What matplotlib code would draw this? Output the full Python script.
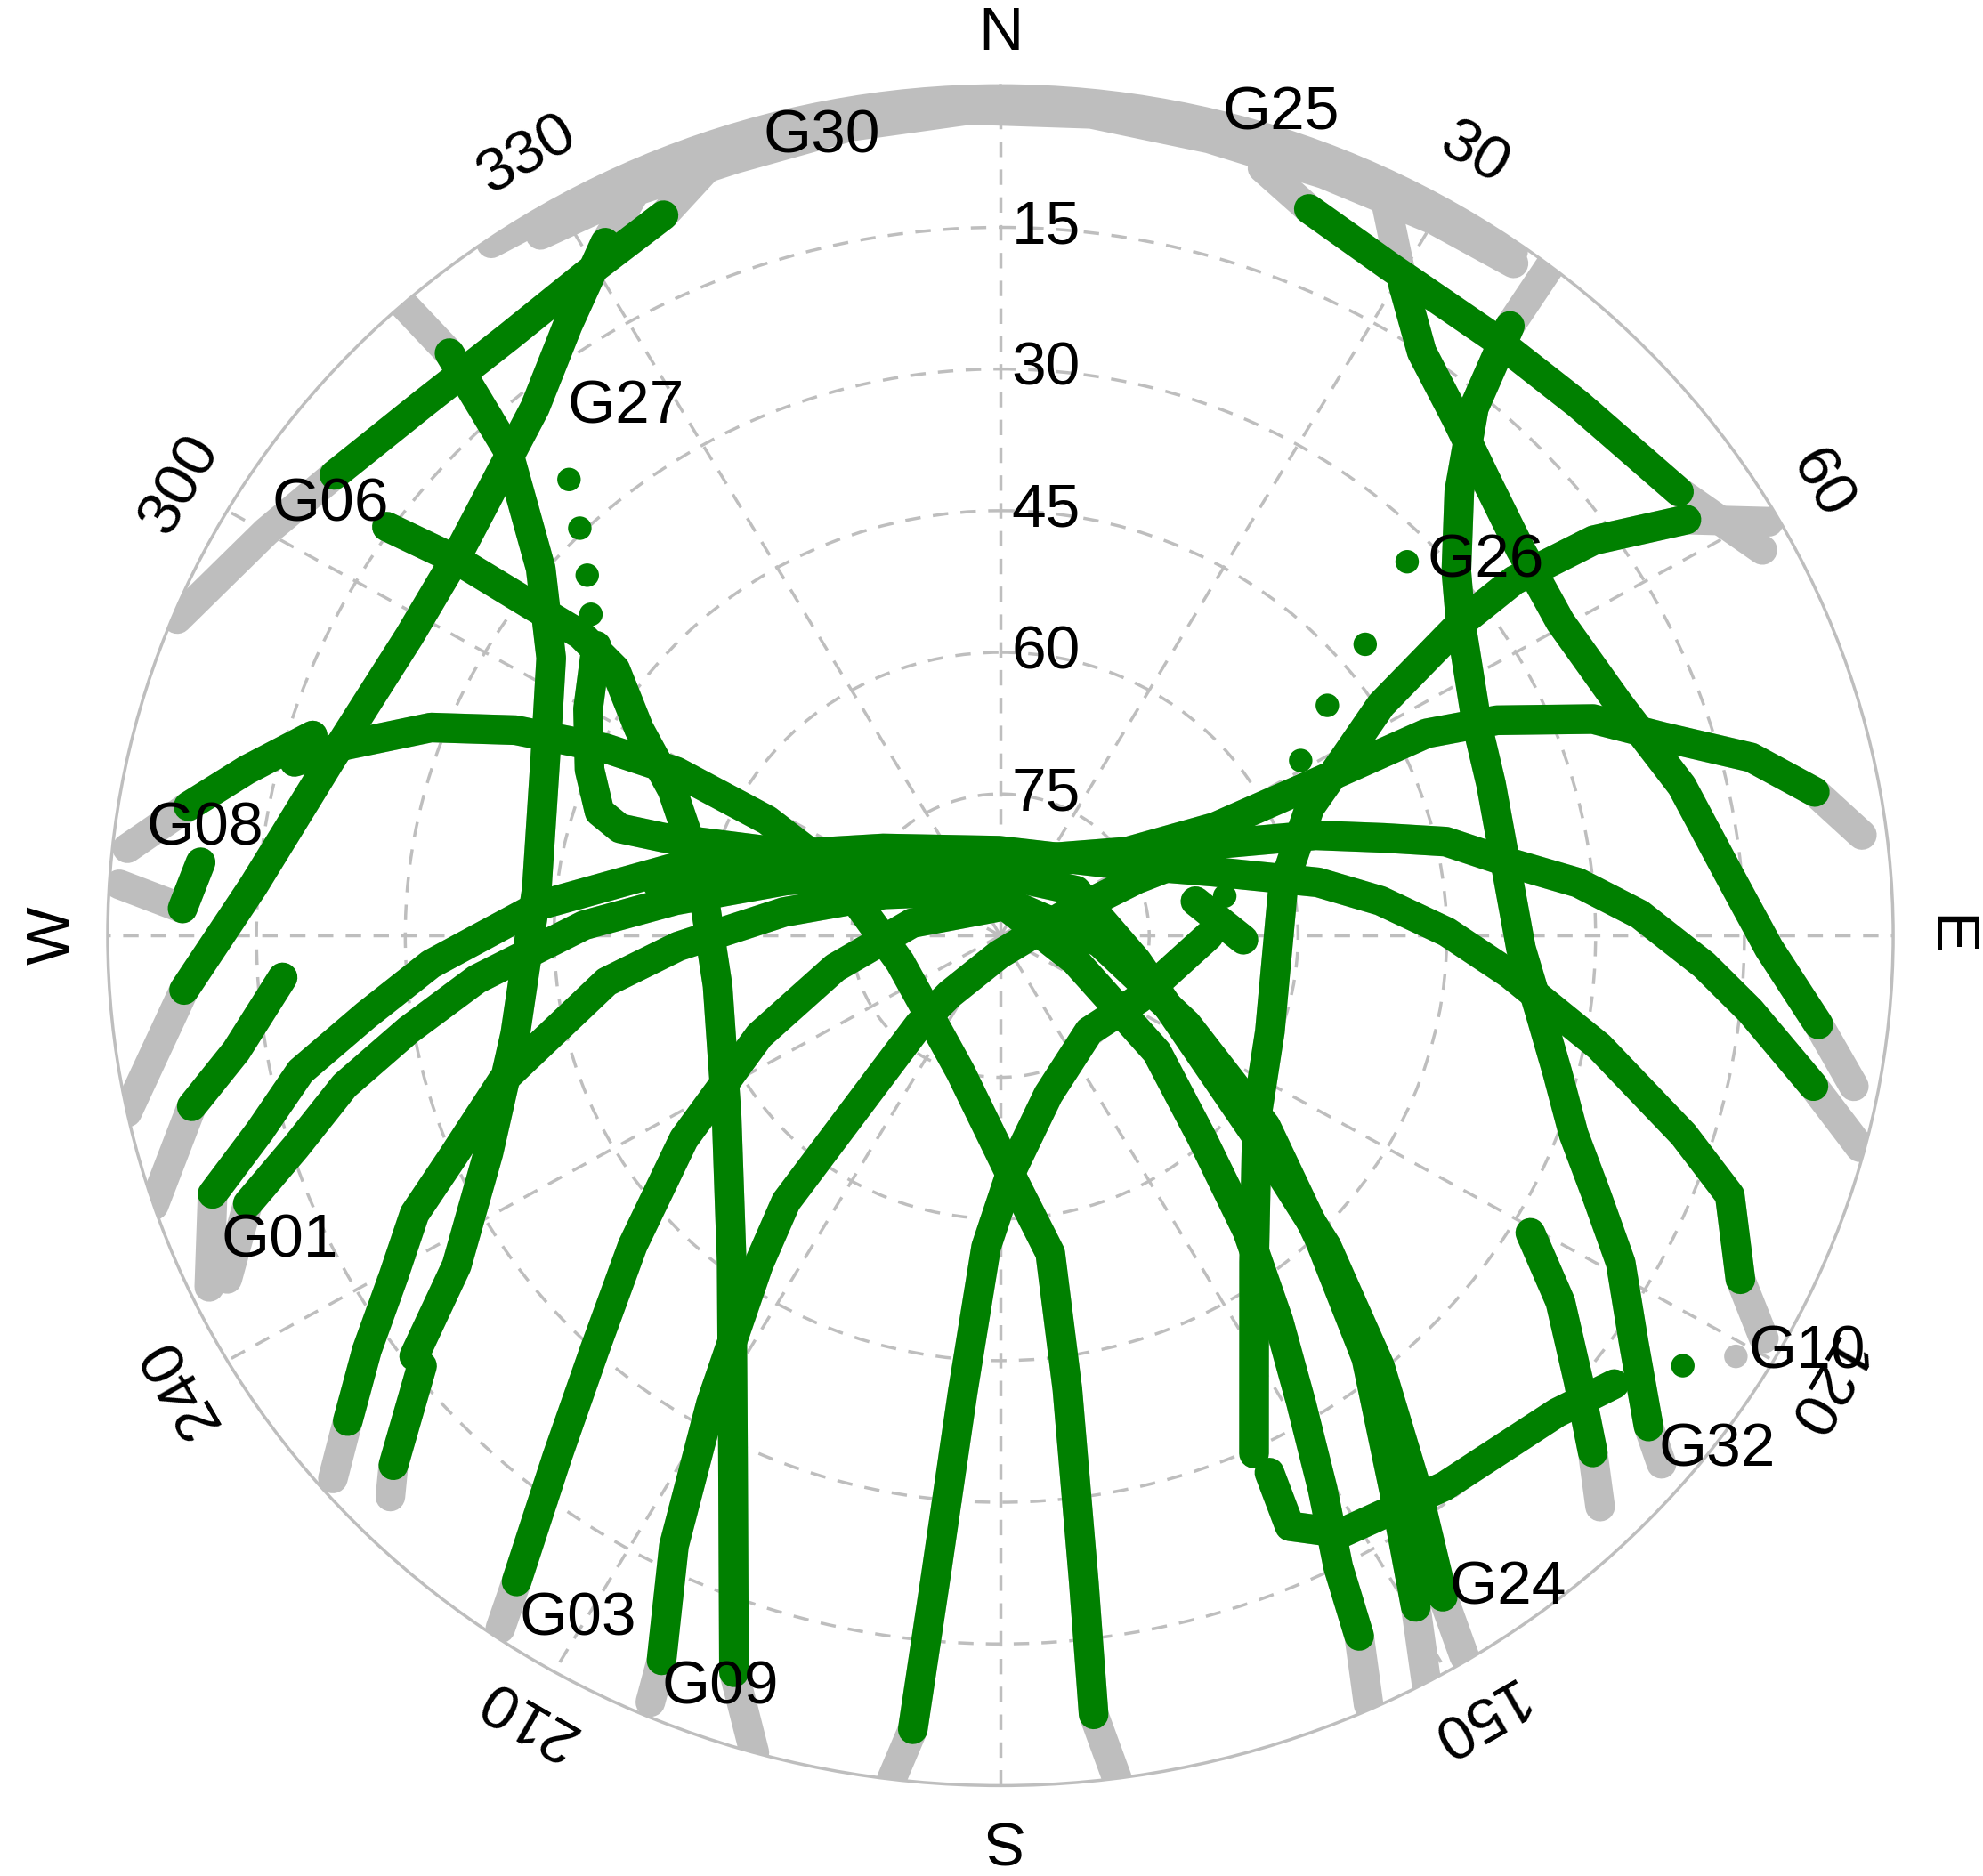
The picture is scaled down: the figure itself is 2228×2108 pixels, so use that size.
import numpy as np
import matplotlib
import matplotlib.pyplot as plt

matplotlib.use("Agg")
plt.rcParams["font.family"] = ["Liberation Sans", "DejaVu Sans"]

GREEN = "#008000"
GREY = "#BEBEBE"
MASK_EL = 5      # below this elevation a pass is drawn grey
LW = 24          # track width in points
FS = 50

# ---- satellite passes: azimuth (deg, clockwise from N) / elevation (deg), nan = data gap
nw_low_az = [292, 300, 306, 314, 322, 329, 336, 340]
nw_low_el = [0.5, 4.5, 7, 9, 9.5, 8.5, 6.5, 3.5]

nw_cross_az = [335, 331.5, 326, 320, 306.5, 298, 285.5, 274, 266, 258]
nw_cross_el = [3, 6.5, 12, 17, 22, 22.5, 20, 14.5, 7.5, 0]

nw_long_az = [318, 318, 316, 310, 303, 292, 276, 258, 246, 237.5, 233, np.nan, 232, 227.5, 226]
nw_long_el = [0, 7, 18.5, 29.5, 36, 40.5, 43, 40, 33.5, 25, 16, np.nan, 16, 7, 4.5]

g06_az = [305, 306, 306.5, 307, 306, 301, 295, 282.5, 259.5, 235.5, 218, 206, 199, 196]
g06_el = [14.5, 22.5, 31, 37, 42, 47.5, 53.5, 59, 61, 56.5, 46, 28.5, 7.5, 0]

g27_az = [307, 300, 293, 288, 286.5, 287, 290.5, 305, 359, 53, 62, 63, 63.5, 65.5, 69, 72.5, 76, 79.5, 83]
g27_el = [39, 42, 45, 47.5, 50, 54.5, 64, 76, 82.5, 76, 65.5, 54.5, 42, 35, 26, 20, 12, 6.5, 2.5]

ne_low_az = [18, 22, 29, 38, 46, 55.5, 62]
ne_low_el = [4.5, 7, 9, 9.5, 9, 7, 3]

ne_arc_az = [26, 30.5, 34.5, 40, 46, 52, 59.5, 68.5, 77, 84.5, 91, 96.5, 100.5]
ne_arc_el = [2, 10, 15, 18.5, 21.5, 23.5, 24.5, 23, 19.5, 16.5, 12.5, 7, 2.5]

g32_az = [38, 38.5, 40.5, 44.5, 50, 54.5, 65, 72, 82, 91.5, 98.5, 104.5, 110, 114.5, 119, 124, 128.5, 130]
g32_el = [0, 7.5, 16.5, 24, 30, 33, 37, 38, 38.5, 37.5, 35, 32, 28.5, 24, 18.5, 13, 6.5, 3]

g26_az = [60.5, 57.5, 55, 54, 54.5, 57.5, 61.5, 66.5, 79.5, 110.5, 126, 143.5, 155]
g26_el = [1, 8, 17, 26, 33, 44.5, 50.5, 56, 61, 61, 58, 47, 29.5]

g26_bit_az = [79.5, 91]
g26_bit_el = [70, 65.5]

g10_az = [154.5, 155, 151.5, 142.5, 132, 127.5]
g10_el = [27, 21, 18, 16.5, 14.5, 12]

east_az = [279, 288, 309, 25, 61, 71.5, 75, 77.5, 81.5, 84.5, 88, 92.5, 96, 101, 104.5]
east_el = [55, 67, 78.5, 81, 71, 56.5, 50, 44, 38, 31.5, 25.5, 19, 14, 6.5, 0.5]

g01_az = [245, 251, 254.5, 258.5, 262.5, 267, 274, 282.5, 291.5, 308, 359, 55.5, 72.5, 80,
          84.5, 89.5, 94.5, 101, 107, 110.5, 116, 119]
g01_el = [2, 6, 12.5, 18, 25.5, 32.5, 43.5, 56.5, 66.5, 75, 81, 76.5, 67.5, 57.5,
          51.5, 45, 38.5, 28.5, 18, 11.5, 7, 2]

g24_az = [245, 249.5, 252.5, 256.5, 260.5, 265, 271.5, 276.5, 285, 300, 348, 58, 101, 121,
          130, 135, 140, 144.5, 147.5, 148.5]
g24_el = [4, 9, 15.5, 22, 29.5, 37, 48, 57, 67.5, 76.5, 83, 81, 76, 67,
          55.5, 43.5, 30.5, 17.5, 7, 0.5]

sw_se_az = [229.5, 232, 235.5, 239.5, 243.5, 247, 253, 263, 268, 276.5, 290.5, 343, 109.5, 128,
            136.5, 141.5, 145.5, 148.5, 151, 153, 154, 155.5]
sw_se_el = [1.5, 6.5, 12.5, 19, 24, 30, 37.5, 50, 57.5, 68, 77.5, 85, 82, 70,
            60.5, 50, 40.5, 32, 23, 15, 7.5, 0.5]

g03_az = [214.5, 215.5, 219, 223, 228.5, 236, 246.5, 258.5, 278.5, 19, 94, 116.5, 127, 135,
          140.5, 146, 149.5, 151.5]
g03_el = [1, 6, 19, 30, 40.5, 51.5, 63.5, 73, 81, 86.5, 80, 69, 56.5, 44.5, 32, 19, 7.5, 0]

s_ne_az = [203.5, 204, 207, 210.5, 215, 217.5, 219, 221, 219.5, 183.5, 72, 66.5, 67]
s_ne_el = [1.5, 6, 17.5, 32.5, 47.5, 54.5, 70, 77.5, 82, 88, 83.5, 75, 66.5]

w_s_az = [284.5, 287, 291, 294, 296.5, 298, 297.5, 292, 254.5, 195.5, 178, 171.5, 172, 173, 173.5, 172.5]
w_s_el = [16.5, 21, 28.5, 36.5, 45.5, 53, 63.5, 72, 79.5, 75, 65, 56, 41.5, 21, 7, 0]

e_s_az = [90, 115.5, 138.5, 164, 177.5, 182.5, 184.5, 185.5, 186, 187]
e_s_el = [69, 74.5, 76.5, 72.5, 65, 57, 41.5, 21.5, 5.5, 0]

g08_az = [276, 279.5, 283, 287]
g08_el = [1.5, 7, 12, 17.5]

g08b_az = [275.5, 272, 273.5]
g08b_el = [9, 7.5, 1]

sw_short_az = [266.5, 261, 257.5, 251.5]
sw_short_el = [17.5, 12, 6.5, 0]

se_short_az = [120.5, 124.5, 129, 132.5, 135]
se_short_el = [28, 21.5, 15, 9, 4.5]

north_a_az = [325, 331, 339, 347.5, 354, 0.5, 7, 14, 21.5, 29, 35.5]
north_a_el = [0.5, 1, 1, 1, 1, 0.5, 0.5, 1, 1, 1, 1]

north_b_az = [328, 335, 342, 350, 358, 6, 14, 22, 30, 36]
north_b_el = [2.5, 3, 3.5, 3, 2.5, 2.5, 3, 3, 2.5, 2]

tracks = [
    (north_a_az, north_a_el), (north_b_az, north_b_el),
    (nw_low_az, nw_low_el), (nw_cross_az, nw_cross_el), (nw_long_az, nw_long_el),
    (g06_az, g06_el), (g27_az, g27_el), (ne_low_az, ne_low_el), (ne_arc_az, ne_arc_el),
    (g32_az, g32_el), (g26_az, g26_el), (g26_bit_az, g26_bit_el), (g10_az, g10_el),
    (east_az, east_el), (g01_az, g01_el), (g24_az, g24_el), (sw_se_az, sw_se_el),
    (g03_az, g03_el), (s_ne_az, s_ne_el), (w_s_az, w_s_el), (e_s_az, e_s_el),
    (g08_az, g08_el), (g08b_az, g08b_el), (sw_short_az, sw_short_el),
    (se_short_az, se_short_el),
]

# isolated epochs (sparse data), drawn as dots
dot_az = [318, 315.5, 312.5, 309.5, 46, 50, 53.5, 58.5, 79.5, 123.5, 121]
dot_el = [25, 29.5, 33.5, 36.5, 33, 42, 49, 54.5, 67, 7.5, 3.5]

# satellite labels
sat_names = ["G30", "G25", "G27", "G06", "G26", "G08", "G01", "G10", "G32", "G24", "G03", "G09"]
sat_az = [348, 18, 326, 304, 51, 278, 246, 118.5, 127, 143.5, 210.5, 199.5]
sat_el = [3.5, -1.5, 22.5, 8.5, 27, 9, 10.5, -2.5, -0.5, 4, 6, 5.5]

# frame annotation
dir_az = list(range(0, 360, 30))
dir_labels = ["N", "30", "60", "E", "120", "150", "S", "210", "240", "W", "300", "330"]
ring_el = [15, 30, 45, 60, 75]


def to_polar(az, el):
    return np.radians(np.asarray(az, dtype=float)), 90 - np.asarray(el, dtype=float)


fig = plt.figure(figsize=(22.28, 21.08), dpi=100)
ax = fig.add_axes([0.0543, 0.0482, 0.9004, 0.9061], projection="polar")
ax.set_aspect("auto")
ax.set_theta_zero_location("N")
ax.set_theta_direction(-1)
ax.set_ylim(0, 90)
ax.set_xticks(np.radians(dir_az))
ax.set_xticklabels([])
ax.set_yticks([90 - e for e in ring_el])
ax.set_yticklabels([])
ax.tick_params(length=0)
ax.grid(True, color=GREY, linestyle=(0, (5, 4)), linewidth=2.5)
ax.spines["polar"].set_color(GREY)
ax.spines["polar"].set_linewidth(2.5)

# grey first (whole pass), green on top where above the mask
for az, el in tracks:
    th, r = to_polar(az, el)
    ax.plot(th, r, color=GREY, lw=LW, solid_capstyle="round",
            solid_joinstyle="round", zorder=2)
for az, el in tracks:
    th, r = to_polar(az, el)
    r_up = np.where(np.asarray(el, dtype=float) >= MASK_EL, r, np.nan)
    ax.plot(th, r_up, color=GREEN, lw=LW, solid_capstyle="round",
            solid_joinstyle="round", zorder=3)

th, r = to_polar(dot_az, dot_el)
dot_col = [GREEN if e >= MASK_EL else GREY for e in dot_el]
ax.scatter(th, r, s=19 ** 2, c=dot_col, linewidths=0, zorder=3)

for name, a, e in zip(sat_names, sat_az, sat_el):
    ax.text(np.radians(a), 90 - e, name, ha="center", va="center",
            fontsize=FS, zorder=5)

for a, lab in zip(dir_az, dir_labels):
    ax.text(np.radians(a), 95.5, lab, rotation=-a, rotation_mode="anchor",
            ha="center", va="center", fontsize=FS)

for e in ring_el:
    ax.annotate(str(e), xy=(0, 90 - e), xytext=(9, 0), textcoords="offset points",
                ha="left", va="center", fontsize=FS, zorder=5)

fig.savefig("out.png", dpi=100)
